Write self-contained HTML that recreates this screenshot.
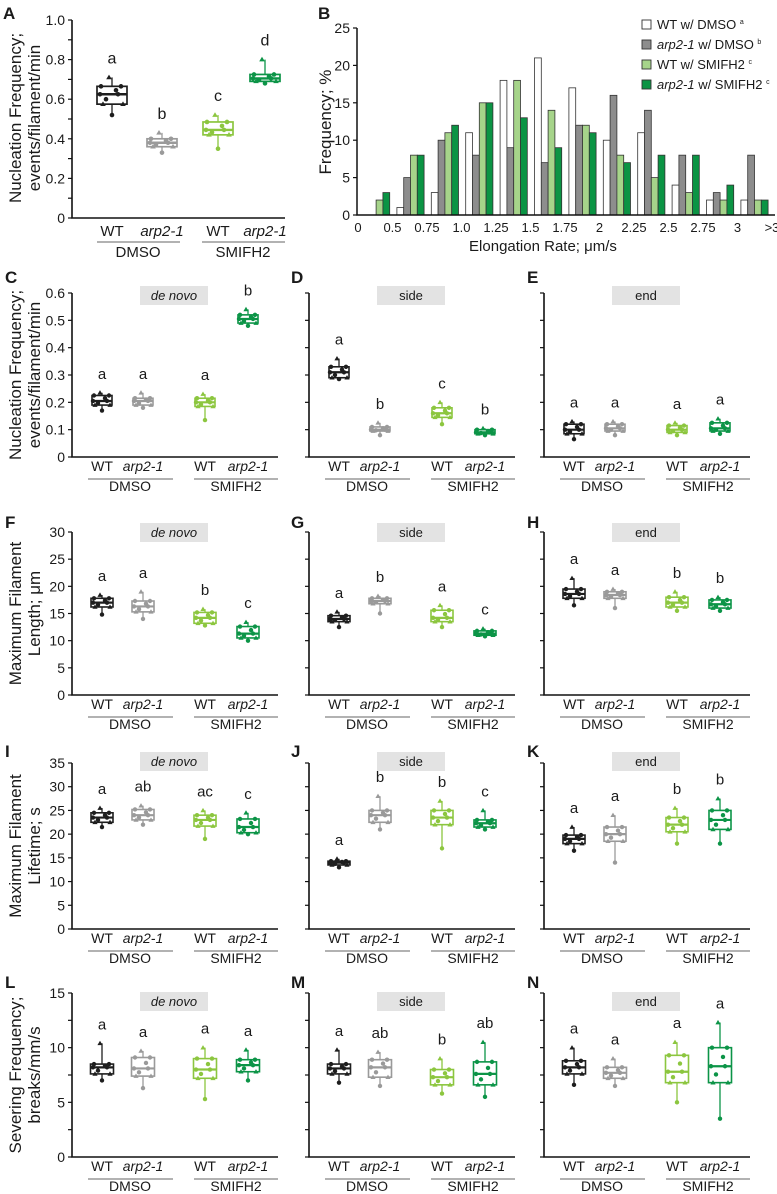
<!DOCTYPE html>
<html><head><meta charset="utf-8">
<style>
html,body{margin:0;padding:0;background:#fff;}
svg{display:block;font-family:"Liberation Sans",Arial,sans-serif;}
</style></head>
<body>
<svg id="fig" width="777" height="1194" viewBox="0 0 777 1194" xmlns="http://www.w3.org/2000/svg"></svg>
<script>
// ---------- Histogram data (panel B) ----------
const histBins = ["0.25-0.5","0.5-0.75","0.75-1.0","1.0-1.25","1.25-1.5","1.5-1.75","1.75-2","2-2.25","2.25-2.5","2.5-2.75","2.75-3","3->3"];
const histWT   = [0,1,3,11,18,21,17,10,11,4,2,2];
const histArp  = [0,5,10,8,9,7,12,16,14,8,3,8];
const histWTS  = [2,8,11,15,18,14,12,8,5,3,2,2];
const histArpS = [3,8,12,15,13,9,11,7,8,8,4,2];
const histXTicks = ["0","0.5","0.75","1.0","1.25","1.5","1.75","2","2.25","2.5","2.75","3",">3"];
const histYTicks = [0,5,10,15,20,25];

// ---------- Box plot data: [min, q1, median, q3, max] ----------
const boxA = [[0.52,0.575,0.625,0.665,0.71],[0.33,0.36,0.38,0.40,0.43],[0.35,0.42,0.445,0.485,0.52],[0.68,0.69,0.705,0.725,0.80]];
const boxC = [[0.17,0.19,0.205,0.225,0.235],[0.18,0.19,0.205,0.215,0.235],[0.135,0.185,0.20,0.215,0.23],[0.48,0.49,0.505,0.52,0.54]];
const boxD = [[0.285,0.29,0.31,0.33,0.36],[0.08,0.095,0.10,0.11,0.125],[0.12,0.145,0.16,0.18,0.20],[0.08,0.085,0.09,0.10,0.105]];
const boxE = [[0.065,0.085,0.10,0.12,0.13],[0.08,0.095,0.105,0.12,0.13],[0.08,0.09,0.10,0.115,0.125],[0.085,0.095,0.105,0.125,0.14]];
const boxF = [[14.8,16.2,17,17.8,18.4],[14,15.3,16.3,17.3,19],[12.8,13.2,14.2,15.2,15.8],[10,10.5,11.3,12.6,13.4]];
const boxG = [[12.5,13.5,14,14.6,15.3],[15,16.8,17.3,17.8,18.2],[12.5,13.5,14.2,15.6,16.5],[10.8,11,11.3,11.8,12.2]];
const boxH = [[16.5,17.8,18.6,19.5,21.5],[16,17.8,18.4,19,19.5],[15.5,16.2,17,18,19],[15.5,16,16.7,17.5,18]];
const boxI = [[21.5,22.5,23.5,24.5,25.5],[22,23,24,25.2,26],[19,21.7,23,24,25],[20,20.3,21.5,23.2,24.5]];
const boxJ = [[13,13.5,14,14.3,14.8],[21,22.5,24,25,28],[17,22,23.5,25,27],[21,21.5,22.3,23,25]];
const boxK = [[16.5,18,19,19.8,21.5],[14,18.5,20,21.5,24],[18,20.5,22,23.5,25.5],[18,21,23,25,27.5]];
const boxL = [[7,7.6,8.2,8.5,10.4],[6.3,7.4,8.1,9.1,9.7],[5.3,7.2,8,9,10],[7,7.8,8.4,8.9,9.8]];
const boxM = [[6.8,7.6,8.1,8.5,9.8],[6.5,7.3,8.2,8.9,9.6],[5.8,6.6,7.3,8.0,9],[5.5,6.6,7.6,8.7,10.5]];
const boxN = [[6.6,7.6,8.2,8.8,10],[6.5,7.2,7.7,8.2,9],[5,6.8,7.8,9.3,10.5],[3.5,6.8,8.3,10,12.3]];
const lettersA = ["a","b","c","d"];
const lettersC = ["a","a","a","b"], lettersD = ["a","b","c","b"], lettersE = ["a","a","a","a"];
const lettersF = ["a","a","b","c"], lettersG = ["a","b","a","c"], lettersH = ["a","a","b","b"];
const lettersI = ["a","ab","ac","c"], lettersJ = ["a","b","b","c"], lettersK = ["a","a","b","b"];
const lettersL = ["a","a","a","a"], lettersM = ["a","ab","b","ab"], lettersN = ["a","a","a","a"];
const groupLabels = ["WT","arp2-1","WT","arp2-1"];
const treatLabels = ["DMSO","SMIFH2"];

const NS="http://www.w3.org/2000/svg";
const svg=document.getElementById('fig');
const colors=["#1e1e1e","#9a9a9a","#8cc63f","#0c9447"];
function mk(tag,attrs,parent){const e=document.createElementNS(NS,tag);for(const k in attrs)e.setAttribute(k,attrs[k]);(parent||svg).appendChild(e);return e;}
function txt(x,y,s,size,opts,parent){opts=opts||{};const e=mk('text',{x:x,y:y,'font-size':size,'text-anchor':opts.anchor||'middle',fill:opts.fill||'#1a1a1a'},parent);
 if(opts.italic)e.setAttribute('font-style','italic'); if(opts.bold)e.setAttribute('font-weight','bold');
 if(opts.transform)e.setAttribute('transform',opts.transform); e.textContent=s; return e;}

function panelLetter(x,y,s){const t=txt(x,y,s,17,{anchor:'start',bold:true});

}

function boxPanel(o){
 const g=mk('g',{});
 
 
 const x0=o.x0, yTop=o.yTop, yBot=o.yBot, ymax=o.ymax;
 const ys=v=>yBot-(v/ymax)*(yBot-yTop);
 const xs=i=>x0+[30,71,133,176][i];
 const ax=mk('path',{d:`M${x0},${yTop} V${yBot} H${x0+206}`,stroke:'#111','stroke-width':1.6,fill:'none'},g);
 
 
 for(let v=0; v<=ymax+1e-9; v+=o.tickStep){
   mk('line',{x1:x0-4,x2:x0,y1:ys(v),y2:ys(v),stroke:'#111','stroke-width':1.2},g);
 }
 if(o.labels){ for(let v=0; v<=ymax+1e-9; v+=o.labelStep){
   const t=txt(x0-7,ys(v)+5,o.fmt(v),14,{anchor:'end'},g);
   
   
 }}
 if(o.tag){const r=mk('rect',{x:x0+68,y:o.tagY,width:68,height:19,fill:'#e3e3e3'},g);
  
  
  txt(x0+102,o.tagY+14,o.tag,13,{italic:o.tag==='de novo'},g);}
 o.data.forEach((d,i)=>{
   const c=colors[i], cx=xs(i), w=o.bw||22;
   const bg=mk('g',{},g);
   
   
   mk('line',{x1:cx,x2:cx,y1:ys(d[0]),y2:ys(d[4]),stroke:c,'stroke-width':1.3},bg);
   mk('rect',{x:cx-w/2,y:ys(d[3]),width:w,height:Math.max(ys(d[1])-ys(d[3]),1),fill:'#fff',stroke:c,'stroke-width':1.6},bg);
   mk('line',{x1:cx-w/2,x2:cx+w/2,y1:ys(d[2]),y2:ys(d[2]),stroke:c,'stroke-width':2.2},bg);
   const pts=[d[0],d[1],d[2],d[3],d[4],(d[1]+d[2])/2,(d[2]+d[3])/2,d[1],d[3],d[2]];
   const jit=[0,-7,5,7,-2,-4,3,8,-8,-9];
   pts.forEach((v,k)=>{
     if(k%3===1){mk('path',{d:`M${cx+jit[k]},${ys(v)-2.6} l2.6,4.4 h-5.2z`,fill:c},bg);}
     else mk('circle',{cx:cx+jit[k],cy:ys(v),r:2.2,fill:c},bg);
   });
   const lt=txt(cx,ys(d[4])-14,o.letters[i],15,{},g);
   
   
 });
 const lY=yBot+14;
 groupLabels.forEach((s,i)=>{const t=txt(xs(i),lY,s,14,{italic:i%2===1},g);
  
  });
 const uY=lY+8;
 mk('line',{x1:x0+16,x2:x0+101,y1:uY,y2:uY,stroke:'#666','stroke-width':1},g);
 mk('line',{x1:x0+122,x2:x0+206,y1:uY,y2:uY,stroke:'#666','stroke-width':1},g);
 txt(x0+58,uY+12,treatLabels[0],14,{},g);
 txt(x0+164,uY+12,treatLabels[1],14,{},g);
}

function yTitle(cx,cy,l1,l2){
 const t1=txt(cx-9,cy,l1,17,{transform:`rotate(-90 ${cx-9} ${cy})`});
 
 
 if(l2){const t2=txt(cx+10,cy,l2,17,{transform:`rotate(-90 ${cx+10} ${cy})`});
 
 }
}

panelLetter(3,19,'A');
yTitle(30,118,'Nucleation Frequency;','events/filament/min');
(function(){
 const x0=72,yTop=20,yBot=218;
 const ys=v=>yBot-v*(yBot-yTop);
 const xs=i=>[112,162,218,265][i];
 const g=mk('g',{});
 
 
 mk('path',{d:`M${x0},${yTop} V${yBot} H${x0+213}`,stroke:'#111','stroke-width':1.6,fill:'none'},g);
 for(let k=0;k<=10;k++){mk('line',{x1:x0-4,x2:x0,y1:ys(k/10),y2:ys(k/10),stroke:'#111','stroke-width':1.2},g);}
 for(let k=0;k<=5;k++){const v=k*0.2;txt(x0-7,ys(v)+5,v===0?'0':v.toFixed(1),14,{anchor:'end'},g);}
 boxA.forEach((d,i)=>{
   const c=colors[i],cx=xs(i),w=30;
   const bg=mk('g',{},g);
   
   
   mk('line',{x1:cx,x2:cx,y1:ys(d[0]),y2:ys(d[4]),stroke:c,'stroke-width':1.3},bg);
   mk('rect',{x:cx-w/2,y:ys(d[3]),width:w,height:ys(d[1])-ys(d[3]),fill:'#fff',stroke:c,'stroke-width':1.7},bg);
   mk('line',{x1:cx-w/2,x2:cx+w/2,y1:ys(d[2]),y2:ys(d[2]),stroke:c,'stroke-width':2.4},bg);
   const pts=[d[0],d[1],d[2],d[3],d[4],(d[1]+d[2])/2,(d[2]+d[3])/2,d[1],d[3],d[2]];
   const jit=[0,-9,6,9,-3,-6,4,11,-11,-12];
   pts.forEach((v,k)=>{ if(k%3===1)mk('path',{d:`M${cx+jit[k]},${ys(v)-2.8} l2.8,4.6 h-5.6z`,fill:c},bg);
     else mk('circle',{cx:cx+jit[k],cy:ys(v),r:2.3,fill:c},bg);});
   txt(cx,ys(d[4])-14,lettersA[i],16,{},g);
 });
 groupLabels.forEach((s,i)=>txt(xs(i),236,s,15,{italic:i%2===1},g));
 mk('line',{x1:97,x2:180,y1:242,y2:242,stroke:'#666','stroke-width':1},g);
 mk('line',{x1:202,x2:285,y1:242,y2:242,stroke:'#666','stroke-width':1},g);
 txt(138,257,'DMSO',15,{},g); txt(243,257,'SMIFH2',15,{},g);
})();

panelLetter(318,19,'B');
(function(){
 const x0=357,yTop=28,yBot=215;
 const ys=v=>yBot-(v/25)*(yBot-yTop);
 const gx=k=>362.5+34.4*k;
 const g=mk('g',{});
 
 
 const series=[histWT,histArp,histWTS,histArpS];
 const fills=["#ffffff","#8d8d8d","#a6d48a","#0b9444"];
 const sNames=["wt-dmso","arp-dmso","wt-smifh2","arp-smifh2"];
 series.forEach((arr,s)=>{arr.forEach((v,k)=>{ if(v<=0) return;
   const r=mk('rect',{x:gx(k)+s*6.8,y:ys(v),width:6.8,height:yBot-ys(v),fill:fills[s],stroke:'#333','stroke-width':0.8},g);
   
   
 });});
 mk('path',{d:`M${x0},${yTop} V${yBot} H775`,stroke:'#111','stroke-width':1.5,fill:'none'},g);
 histYTicks.forEach(v=>{mk('line',{x1:x0-4,x2:x0,y1:ys(v),y2:ys(v),stroke:'#111','stroke-width':1.2},g);
   txt(x0-7,ys(v)+5,String(v),14,{anchor:'end'},g);});
 histXTicks.forEach((s,i)=>{const t=txt(358+34.5*i,232,s,13,{},g);
   
   });
 const xt=txt(543,251,'Elongation Rate; μm/s',15,{},g);
 
 
 const yt=txt(331,122,'Frequency; %',17,{transform:'rotate(-90 331 122)'},g);
 
 
 const leg=mk('g',{},g);
 
 
 const lab=[["WT"," w/ DMSO ","a"],["arp2-1"," w/ DMSO ","b"],["WT"," w/ SMIFH2 ","c"],["arp2-1"," w/ SMIFH2 ","c"]];
 lab.forEach((l,i)=>{const y=25+20*i;
   const e=mk('g',{},leg);
   
   
   mk('rect',{x:642,y:y-5,width:9,height:9,fill:fills[i],stroke:'#333','stroke-width':0.9},e);
   const t=mk('text',{x:657,y:y+4,'font-size':13,fill:'#1a1a1a'},e);
   const a=mk('tspan',{},t); a.textContent=l[0]; if(i%2)a.setAttribute('font-style','italic');
   const b=mk('tspan',{},t); b.textContent=l[1];
   const c=mk('tspan',{'font-size':7,dy:-5},t); c.textContent=l[2];
 });
})();

const cols=[72,309,544];
const rows=[
 {yTop:293,yBot:457,ymax:0.6,tickStep:0.1,labelStep:0.1,fmt:v=>v<1e-9?'0':v.toFixed(1),tagY:286,data:[boxC,boxD,boxE],letters:[lettersC,lettersD,lettersE],ids:['c','d','e'],lty:283,t1:'Nucleation Frequency;',t2:'events/filament/min',bw:20},
 {yTop:532,yBot:695,ymax:30,tickStep:5,labelStep:5,fmt:v=>String(Math.round(v)),tagY:523,data:[boxF,boxG,boxH],letters:[lettersF,lettersG,lettersH],ids:['f','g','h'],lty:528,t1:'Maximum Filament',t2:'Length; μm',bw:22},
 {yTop:763,yBot:929,ymax:35,tickStep:5,labelStep:5,fmt:v=>String(Math.round(v)),tagY:752,data:[boxI,boxJ,boxK],letters:[lettersI,lettersJ,lettersK],ids:['i','j','k'],lty:757,t1:'Maximum Filament',t2:'Lifetime; s',bw:22},
 {yTop:993,yBot:1157,ymax:15,tickStep:2.5,labelStep:5,fmt:v=>String(Math.round(v)),tagY:992,data:[boxL,boxM,boxN],letters:[lettersL,lettersM,lettersN],ids:['l','m','n'],lty:988,t1:'Severing Frequency;',t2:'breaks/mm/s',bw:23}
];
const tags=['de novo','side','end'];
const letterX=[5,291,527];
rows.forEach(r=>{
 yTitle(30,(r.yTop+r.yBot)/2,r.t1,r.t2);
 for(let c=0;c<3;c++){
   panelLetter(letterX[c],r.lty,r.ids[c].toUpperCase());
   boxPanel({id:r.ids[c],x0:cols[c],yTop:r.yTop,yBot:r.yBot,ymax:r.ymax,tickStep:r.tickStep,labelStep:r.labelStep,fmt:r.fmt,labels:c===0,tag:tags[c],tagY:r.tagY,data:r.data[c],letters:r.letters[c],bw:r.bw});
 }
});
</script>
</body></html>
